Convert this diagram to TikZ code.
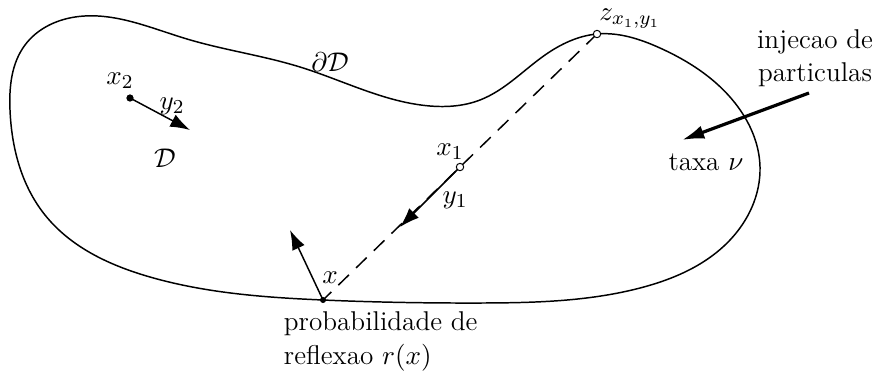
\documentclass[tikz,border=0pt]{standalone}
\usetikzlibrary{arrows.meta,hobby}
\begin{document}
\begin{tikzpicture}[x=0.405pt,y=-0.405pt,
  font=\fontsize{11}{13.5}\selectfont,
  bnd/.style={line width=0.6pt},
  vec/.style={line width=0.6pt,-{Latex[length=8pt,width=5.5pt]}},
  bigvec/.style={line width=1.3pt,-{Latex[length=9pt,width=5.5pt]}},
  pt/.style={circle,draw,fill=white,inner sep=0pt,minimum size=3pt,line width=0.4pt},
  lbl/.style={inner sep=1pt}]
\useasboundingbox (0,0) rectangle (882,372);
% boundary
\draw[bnd,use Hobby shortcut,closed=true]
 (10,110) .. (45,215) .. (150,277) .. (323,300) .. (480,303) .. (640,288)
 .. (730,240) .. (760,167) .. (735,103) .. (660,48) .. (597,34)
 .. (545,55) .. (480,100) .. (430,106) .. (300,67) .. (187,39) .. (75,17) .. (25,45);
% points
\coordinate (zc) at (597,34);
\coordinate (xc) at (323,300);
\coordinate (x1c) at (460,167);
\coordinate (x2c) at (130,98);
\coordinate (y1tip) at (400,227);
\coordinate (y2tip) at (190,130);
\coordinate (ntip) at (290,230);
\coordinate (injs) at (809,93);
\coordinate (injt) at (682,140);
% dashed chord
\draw[line width=0.6pt,dash pattern=on 6pt off 4pt] (zc) -- (xc);
% vectors
\draw[vec] (x1c) -- (y1tip);
\draw[vec] (x2c) -- (y2tip);
\draw[vec] (xc) -- (ntip);
\draw[bigvec] (injs) -- (injt);
% dots
\node[pt] (z) at (zc) {};
\node[pt] (x1) at (x1c) {};
\node[pt,fill=black,minimum size=2.5pt] (x2) at (x2c) {};
\node[pt,fill=black,minimum size=2pt] (x) at (xc) {};
% labels
\node[lbl] (lz) at (630,19) {$z_{x_1,y_1}$};
\node[lbl] (lx1) at (450,152) {$x_1$};
\node[lbl] (ly1) at (455,200) {$y_1$};
\node[lbl] (lx2) at (120,81) {$x_2$};
\node[lbl] (ly2) at (172,106) {$y_2$};
\node[lbl] (lx) at (330,278) {$x$};
\node[lbl] (lD) at (165,158) {$\mathcal{D}$};
\node[lbl] (ldD) at (330,62) {$\partial\mathcal{D}$};
\node[lbl] (ltaxa) at (706,162) {taxa $\nu$};
\node[lbl,align=center] (linj) at (815,58) {injecao de\\particulas};
\node[lbl,align=left,anchor=north west] (lprob) at (281,309) {probabilidade de\\reflexao $r(x)$};
\end{tikzpicture}
\end{document}
